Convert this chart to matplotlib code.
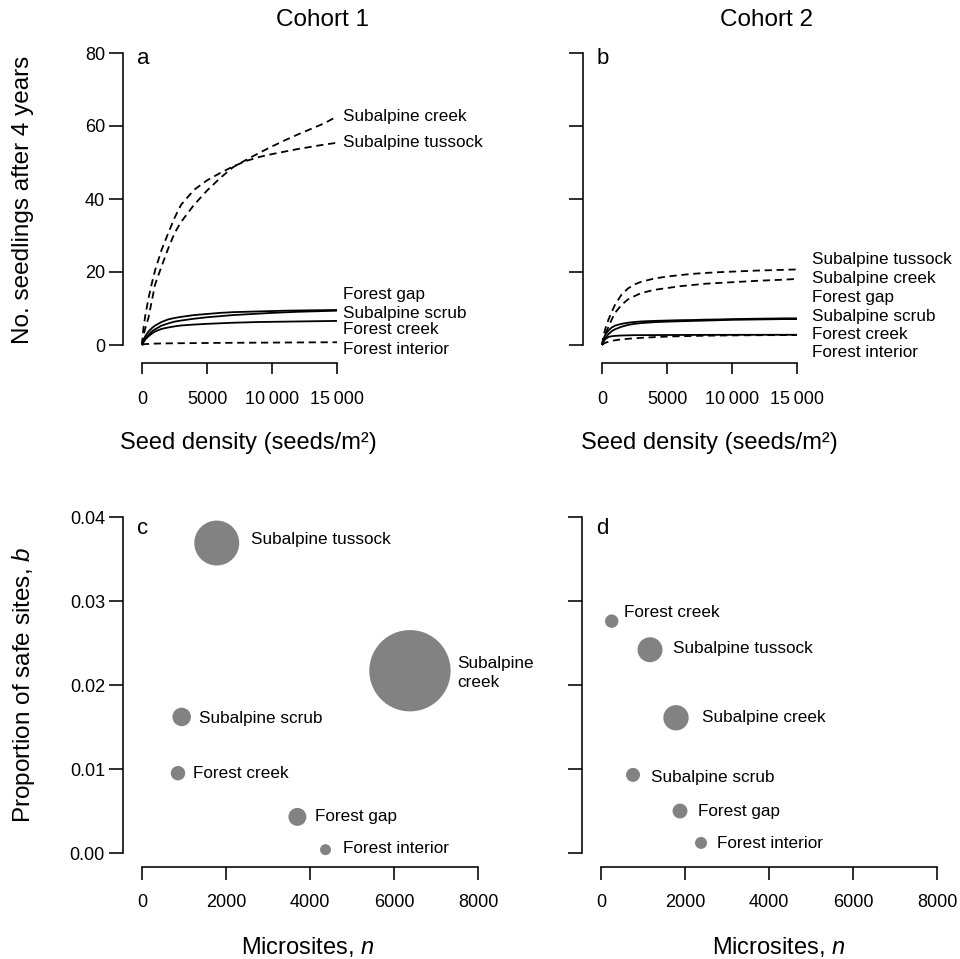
import matplotlib.pyplot as plt

plt.rcParams['font.family'] = ['Liberation Sans', 'DejaVu Sans']
plt.rcParams['mathtext.fontset'] = 'custom'
plt.rcParams['mathtext.rm'] = 'Liberation Sans'
plt.rcParams['mathtext.it'] = 'Liberation Sans:italic'

# seed density (seeds/m2) at which the curves were read
seed = [0, 100, 250, 500, 750, 1000, 1500, 2000, 2500, 3000, 4000, 5000,
        6000, 7000, 8000, 9000, 10000, 11000, 12000, 13000, 14000, 15000]

# cohort 1: no. seedlings after 4 years
c1_sub_creek = [0, 2.5, 4.5, 7.5, 12.0, 16.5, 21.5, 26.3, 30.6, 33.7, 38.4, 42.3,
                45.7, 48.7, 50.7, 52.6, 54.4, 56.1, 57.7, 59.2, 60.7, 62.6]
c1_sub_tussock = [0, 4.3, 8.0, 12.8, 16.8, 20.4, 26.0, 30.5, 34.8, 38.4, 42.5, 45.1,
                  47.1, 48.9, 50.4, 51.5, 52.3, 53.0, 53.7, 54.3, 54.9, 55.4]
c1_forest_gap = [0, 0.8, 1.7, 2.8, 3.7, 4.3, 5.3, 5.9, 6.4, 6.7, 7.2, 7.6,
                 7.9, 8.2, 8.4, 8.6, 8.8, 8.95, 9.1, 9.2, 9.3, 9.4]
c1_sub_scrub = [0, 1.2, 2.4, 3.7, 4.6, 5.3, 6.3, 7.0, 7.4, 7.7, 8.2, 8.5,
                8.8, 9.0, 9.1, 9.2, 9.3, 9.4, 9.45, 9.5, 9.55, 9.6]
c1_forest_creek = [0, 0.7, 1.5, 2.4, 3.1, 3.7, 4.4, 4.8, 5.1, 5.35, 5.6, 5.8,
                   5.95, 6.1, 6.2, 6.3, 6.35, 6.4, 6.45, 6.5, 6.55, 6.6]
c1_forest_interior = [0, 0.15, 0.25, 0.3, 0.35, 0.38, 0.42, 0.45, 0.47, 0.49, 0.52, 0.55,
                      0.58, 0.6, 0.62, 0.64, 0.66, 0.68, 0.7, 0.72, 0.74, 0.75]

# cohort 2
c2_sub_tussock = [0, 2.2, 4.4, 7.0, 9.1, 11.0, 13.8, 15.5, 16.6, 17.3, 18.2, 18.75,
                  19.15, 19.5, 19.75, 19.95, 20.1, 20.25, 20.4, 20.5, 20.6, 20.7]
c2_sub_creek = [0, 1.3, 3.0, 5.0, 7.0, 8.8, 11.0, 12.5, 13.4, 14.2, 15.1, 15.6,
                16.1, 16.45, 16.8, 17.0, 17.2, 17.4, 17.6, 17.75, 17.9, 18.1]
c2_forest_gap = [0, 0.9, 1.9, 3.0, 3.8, 4.3, 5.0, 5.5, 5.8, 6.0, 6.25, 6.4,
                 6.5, 6.6, 6.7, 6.8, 6.9, 6.95, 7.0, 7.05, 7.1, 7.1]
c2_sub_scrub = [0, 1.5, 2.8, 4.0, 4.8, 5.3, 5.8, 6.1, 6.3, 6.45, 6.6, 6.7,
                6.8, 6.85, 6.95, 7.0, 7.1, 7.15, 7.2, 7.25, 7.3, 7.3]
c2_forest_creek = [0, 0.9, 1.6, 2.2, 2.4, 2.5, 2.6, 2.65, 2.7, 2.7, 2.72, 2.74,
                   2.75, 2.76, 2.77, 2.78, 2.78, 2.79, 2.79, 2.8, 2.8, 2.8]
c2_forest_interior = [0, 0.3, 0.6, 0.9, 1.1, 1.3, 1.55, 1.7, 1.85, 1.95, 2.15, 2.3,
                      2.4, 2.48, 2.55, 2.6, 2.63, 2.66, 2.68, 2.7, 2.72, 2.74]

# safe-site model parameters per habitat
habitats = ['Subalpine tussock', 'Subalpine creek', 'Subalpine scrub',
            'Forest creek', 'Forest gap', 'Forest interior']
n_c1 = [1780, 6380, 945, 857, 3700, 4370]
b_c1 = [0.0369, 0.0217, 0.0162, 0.0095, 0.0043, 0.0004]
bubble_c1 = [506, 1656, 86, 52, 81, 30]
n_c2 = [1167, 1786, 762, 255, 1881, 2381]
b_c2 = [0.0242, 0.0161, 0.0093, 0.0276, 0.0050, 0.0012]
bubble_c2 = [156, 161, 49, 45, 56, 36]

W, H = 960, 959
fig = plt.figure(figsize=(9.6, 9.59), dpi=100)


def px_axes(x0, x1, y0, y1):
    return fig.add_axes([x0 / W, 1 - y1 / H, (x1 - x0) / W, (y1 - y0) / H])


def style(ax, left_out, bottom_out, xlen, ylen):
    for s in ['top', 'right']:
        ax.spines[s].set_visible(False)
    ax.spines['left'].set_position(('outward', left_out))
    ax.spines['bottom'].set_position(('outward', bottom_out))
    for s in ['left', 'bottom']:
        ax.spines[s].set_linewidth(1.15)
    ax.tick_params(axis='y', length=ylen, width=1.15, labelsize=13, pad=3)
    ax.tick_params(axis='x', length=xlen, width=1.15, labelsize=13)
    ax.patch.set_visible(False)


def fmt_seed(v):
    return '0' if v == 0 else f'{v:,}'.replace(',', '\u2009') if v >= 10000 else str(v)


curve_style = {'sub_creek': (0, (4, 2.6)), 'sub_tussock': (0, (4, 2.6)),
               'forest_interior': (0, (4, 2.6)), 'forest_gap': '-',
               'sub_scrub': '-', 'forest_creek': '-'}

top_panels = [
    (142, 337, 'a', 'Cohort 1', 322, 248,
     {'sub_creek': c1_sub_creek, 'sub_tussock': c1_sub_tussock,
      'forest_gap': c1_forest_gap, 'sub_scrub': c1_sub_scrub,
      'forest_creek': c1_forest_creek, 'forest_interior': c1_forest_interior},
     [('Subalpine creek', 62.7), ('Subalpine tussock', 55.4), ('Forest gap', 13.7),
      ('Subalpine scrub', 8.7), ('Forest creek', 4.3), ('Forest interior', -1.2)],
     15485),
    (602, 797, 'b', 'Cohort 2', 767, 709,
     {'sub_creek': c2_sub_creek, 'sub_tussock': c2_sub_tussock,
      'forest_gap': c2_forest_gap, 'sub_scrub': c2_sub_scrub,
      'forest_creek': c2_forest_creek, 'forest_interior': c2_forest_interior},
     [('Subalpine tussock', 23.3), ('Subalpine creek', 18.3), ('Forest gap', 13.1),
      ('Subalpine scrub', 7.9), ('Forest creek', 2.9), ('Forest interior', -2.1)],
     16177),
]

for i, (x0, x1, letter, title, tx, lx, curves, labels, labx) in enumerate(top_panels):
    ax = px_axes(x0, x1, 53, 345)
    for key, ys in curves.items():
        ax.plot(seed, ys, color='black', lw=1.3, linestyle=curve_style[key],
                clip_on=False, solid_capstyle='butt')
    ax.set_xlim(0, 15000)
    ax.set_ylim(0, 80)
    ax.set_xticks([0, 5000, 10000, 15000])
    ax.set_xticklabels([fmt_seed(v) for v in [0, 5000, 10000, 15000]])
    ax.set_yticks([0, 20, 40, 60, 80])
    style(ax, 13.7, 13, 8, 10)
    ax.tick_params(axis='x', pad=12)
    ax.spines['left'].set_bounds(0, 80)
    ax.spines['bottom'].set_bounds(0, 15000)
    if i == 1:
        ax.tick_params(axis='y', labelleft=False)
    for text, y in labels:
        ax.text(labx, y, text, fontsize=12.3, va='center', ha='left', clip_on=False)
    fig.text((x0 - 5) / W, 1 - 58 / H, letter, fontsize=16, va='center', ha='left')
    fig.text(tx / W, 1 - 20 / H, title, fontsize=17.5, va='center', ha='center')
    fig.text(lx / W, 1 - 443 / H, 'Seed density (seeds/m²)', fontsize=17,
             va='center', ha='center')

fig.text(23 / W, 1 - 200 / H, 'No. seedlings after 4 years', fontsize=17.5,
         rotation=90, va='center', ha='center')

bottom_panels = [
    (142, 478, 'c', 308, n_c1, b_c1, bubble_c1,
     [(34, 3.7), (47, -2.3), (17, -1.3), (15, 0), (18, 0.7), (17, 1)],
     ['Subalpine tussock', 'Subalpine\ncreek', 'Subalpine scrub',
      'Forest creek', 'Forest gap', 'Forest interior']),
    (601, 937, 'd', 779, n_c2, b_c2, bubble_c2,
     [(23, 1.7), (26, 0), (18, -2.6), (12, 8.3), (18, -0.7), (16, -1)],
     habitats),
]

for i, (x0, x1, letter, lx, n, b, bub, offs, names) in enumerate(bottom_panels):
    ax = px_axes(x0, x1, 517, 853)
    ax.scatter(n, b, s=[v * 2.07 for v in bub], color='#828282', linewidths=0,
               clip_on=False, zorder=3)
    for xi, yi, (dx, dy), name in zip(n, b, offs, names):
        ax.annotate(name, (xi, yi), xytext=(dx, dy), textcoords='offset pixels',
                    fontsize=12.3, va='center', ha='left', linespacing=1.3,
                    annotation_clip=False)
    ax.set_xlim(0, 8000)
    ax.set_ylim(0, 0.04)
    ax.set_xticks([0, 2000, 4000, 6000, 8000])
    ax.set_yticks([0, 0.01, 0.02, 0.03, 0.04])
    ax.set_yticklabels(['0.00', '0.01', '0.02', '0.03', '0.04'])
    style(ax, 13.7, 10, 9.5, 10)
    ax.tick_params(axis='x', pad=10)
    ax.spines['left'].set_bounds(0, 0.04)
    ax.spines['bottom'].set_bounds(0, 8000)
    if i == 1:
        ax.tick_params(axis='y', labelleft=False)
    fig.text((x0 - 5) / W, 1 - 528 / H, letter, fontsize=16, va='center', ha='left')
    fig.text(lx / W, 1 - 947 / H, 'Microsites, $n$', fontsize=17,
             va='center', ha='center')

fig.text(23.5 / W, 1 - 685 / H, 'Proportion of safe sites, $b$', fontsize=17.5,
         rotation=90, va='center', ha='center')

fig.savefig('out.png', dpi=100)
